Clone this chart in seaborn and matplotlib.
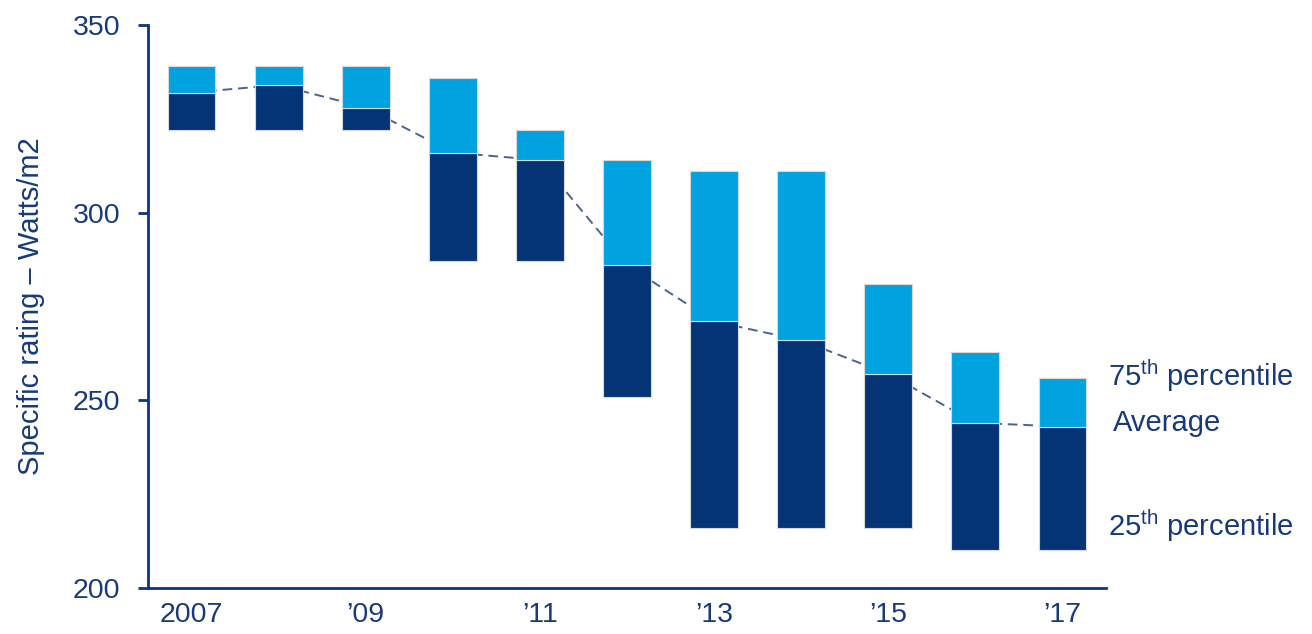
import matplotlib
matplotlib.use("Agg")
import matplotlib.pyplot as plt
import seaborn as sns
import numpy as np
import pandas as pd

years = ["2007", "2008", "2009", "2010", "2011", "2012", "2013", "2014", "2015", "2016", "2017"]
tick_labels = ["2007", "", "\u201909", "", "\u201911", "", "\u201913", "", "\u201915", "", "\u201917"]
p75 = [339, 339, 339, 336, 322, 314, 311, 311, 281, 263, 256]
avg = [332, 334, 328, 316, 314, 286, 271, 266, 257, 244, 243]
p25 = [322, 322, 322, 287, 287, 251, 216, 216, 216, 210, 210]

LIGHT = "#00A3E0"
DARK = "#053476"
NAVY = "#0E3479"
TXT = "#173A7A"

sns.set_theme(style="white")
plt.rcParams["font.family"] = ["Liberation Sans", "DejaVu Sans"]
plt.rcParams["mathtext.fontset"] = "custom"
plt.rcParams["mathtext.rm"] = "Liberation Sans"
plt.rcParams["mathtext.it"] = "Liberation Sans"

df = pd.DataFrame({"year": years, "p75": p75, "avg": avg, "p25": p25})
df["upper"] = df["p75"] - df["avg"]
df["lower"] = df["avg"] - df["p25"]

fig = plt.figure(figsize=(13.12, 6.34), dpi=100)
ax = fig.add_axes([0.1128, 0.0726, 0.843 - 0.1128, 0.9606 - 0.0726])

x = np.arange(len(years))
sns.lineplot(x=x, y=df["avg"], ax=ax, color="#4A6390", linewidth=1.4,
             linestyle=(0, (5, 3)), zorder=1)
sns.barplot(data=df, x="year", y="lower", bottom=df["p25"], color=DARK, width=0.55,
            edgecolor="#D8D8D8", linewidth=0.8, saturation=1, ax=ax, zorder=2)
sns.barplot(data=df, x="year", y="upper", bottom=df["avg"], color=LIGHT, width=0.55,
            edgecolor="#D8D8D8", linewidth=0.8, saturation=1, ax=ax, zorder=2)

ax.set_xlim(-0.5, 10.5)
ax.set_ylim(200, 350)
ax.set_yticks([200, 250, 300, 350])
ax.set_xticks(x)
ax.set_xticklabels(tick_labels)
ax.set_xlabel("")
ax.set_ylabel("Specific rating \u2013 Watts/m2", fontsize=21, color=TXT, labelpad=20)

for s in ["top", "right"]:
    ax.spines[s].set_visible(False)
for s in ["left", "bottom"]:
    ax.spines[s].set_color(NAVY)
    ax.spines[s].set_linewidth(2)

ax.tick_params(axis="y", left=True, direction="out", length=7, width=2, color=NAVY,
               labelsize=20.5, labelcolor=TXT, pad=13)
ax.tick_params(axis="x", bottom=False, labelsize=20.5, labelcolor=TXT, pad=4)

ax.text(10.52, 256.5, "75$^{\\mathrm{th}}$ percentile", fontsize=21, color=TXT,
        va="center", ha="left", clip_on=False)
ax.text(10.58, 244, "Average", fontsize=21, color=TXT, va="center", ha="left", clip_on=False)
ax.text(10.52, 216.5, "25$^{\\mathrm{th}}$ percentile", fontsize=21, color=TXT,
        va="center", ha="left", clip_on=False)

fig.savefig("out.png", dpi=100)
